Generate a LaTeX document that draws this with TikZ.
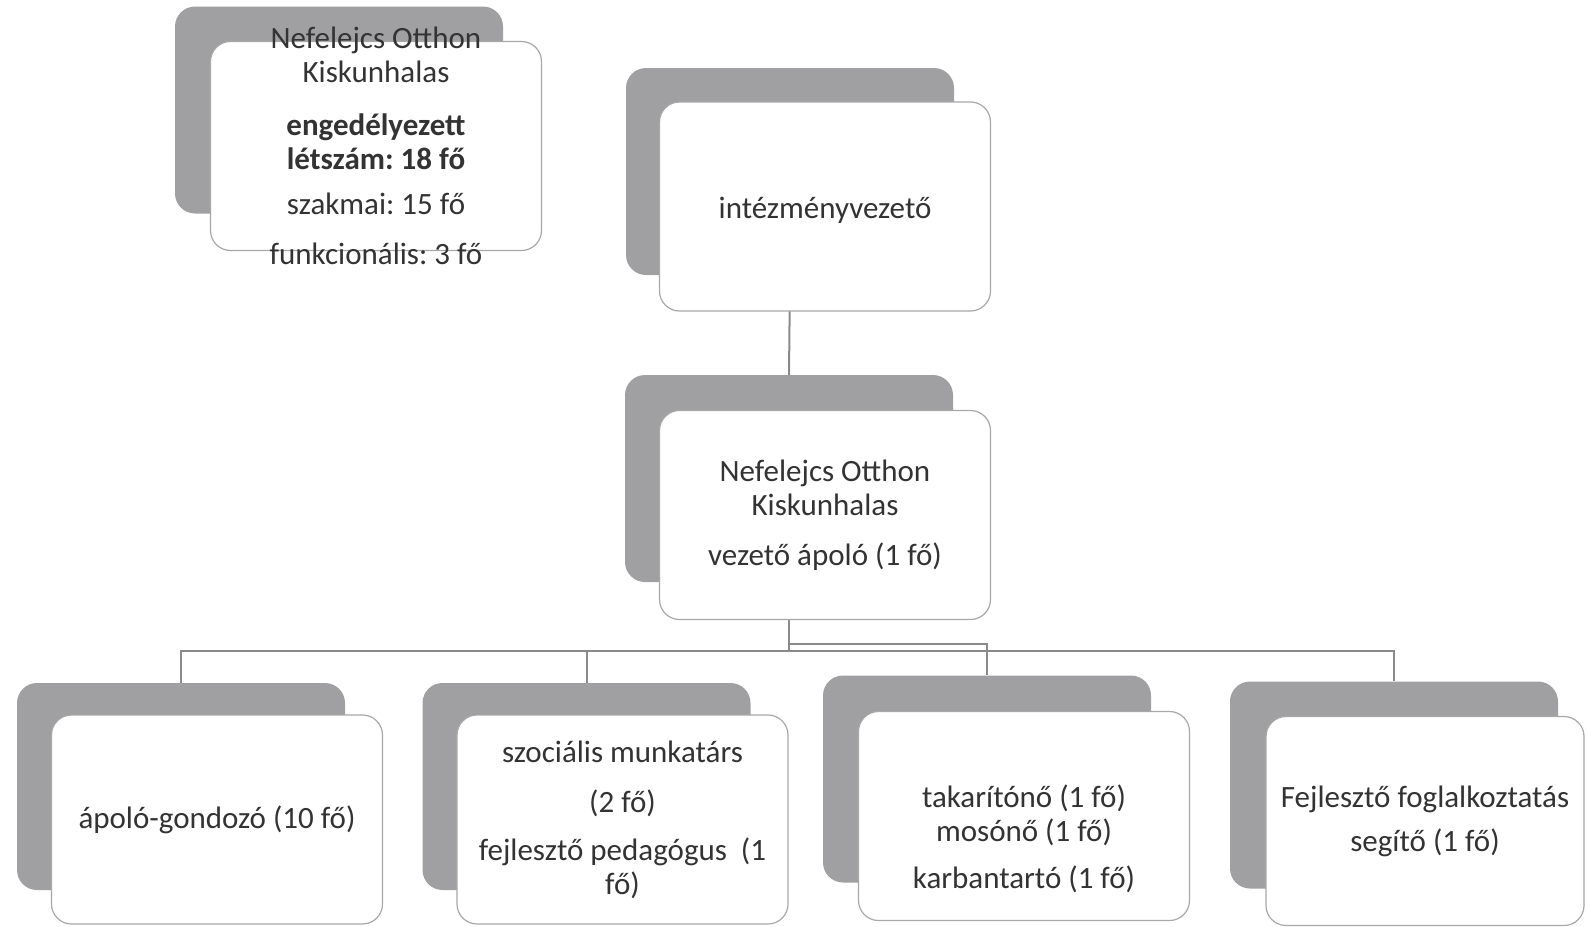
\documentclass[tikz,border=0pt]{standalone}
\usepackage{fontspec}
\setmainfont{Carlito}
\usetikzlibrary{backgrounds}
\definecolor{textgray}{HTML}{333333}
\definecolor{shadowgray}{HTML}{A0A0A2}
\definecolor{bordergray}{HTML}{A8A8A8}
\definecolor{linegray}{HTML}{8A8A8A}
\frenchspacing

\begin{document}
\begin{tikzpicture}[
    x=1pt, y=1pt,
    back/.style={fill=shadowgray, rounded corners=20pt, minimum width=328pt, minimum height=207pt, inner sep=0pt},
    card/.style={draw=bordergray, line width=1.2pt, fill=white, rounded corners=20pt, minimum width=331pt, minimum height=209pt, inner sep=0pt, align=center, text=textgray, font=\fontsize{31}{34}\selectfont},
    conn/.style={draw=linegray, line width=2pt}
]
\useasboundingbox (0,0) rectangle (1586,-926);

% back cards
\node[back] (orgB) at (339,-110) {};
\node[back] (ivezB) at (790,-171.5) {};
\node[back] (vezB) at (789,-478.5) {};
\node[back] (apoloB) at (181,-786.5) {};
\node[back] (szocB) at (586.5,-786.5) {};
\node[back] (takB) at (987,-779) {};
\node[back] (fejlB) at (1394,-785) {};

% front cards
\node[card] (org) at ([shift={(37,-36)}]orgB) {\smash{\raisebox{-10pt}{\begin{tabular}{@{}c@{}}
    Nefelejcs Otthon\\Kiskunhalas\\[19pt]
    \textbf{engedélyezett}\\\textbf{létszám: 18 fő}\\[11pt]
    szakmai: 15 fő\\[16pt]funkcionális: 3 fő\end{tabular}}}};
\node[card] (ivez) at ([shift={(35,-35)}]ivezB) {\rule{0pt}{28pt}intézményvezető};
\node[card] (vez) at ([shift={(36,-36.5)}]vezB) {Nefelejcs Otthon\\Kiskunhalas\\[16pt]vezető ápoló (1 fő)};
\node[card] (apolo) at ([shift={(36,-33)}]apoloB) {ápoló-gondozó (10 fő)};
\node[card] (szoc) at ([shift={(36,-33)}]szocB) {szociális munkatárs\\[16pt](2 fő)\\[14pt]fejlesztő pedagógus\ \ (1\\fő)};
\node[card] (tak) at ([shift={(37,-37)}]takB) {\rule{0pt}{69pt}takarítónő (1 fő)\\mosónő (1 fő)\\[13pt]karbantartó (1 fő)};
\node[card, minimum width=318pt] (fejl) at ([shift={(31,-36)}]fejlB) {Fejlesztő foglalkoztatás\\[10pt]segítő (1 fő)};

% connectors
\begin{scope}[on background layer]
\draw[conn] (ivezB.south) -- (vezB.north);
\draw[conn] (vezB.south) -- +(0,-69) -| (apoloB.north);
\draw[conn] (vezB.south) -- +(0,-69) -| (szocB.north);
\draw[conn] (vezB.south) -- +(0,-62) -| (takB.north);
\draw[conn] (vezB.south) -- +(0,-69) -| (fejlB.north);
\end{scope}
\end{tikzpicture}
\end{document}
